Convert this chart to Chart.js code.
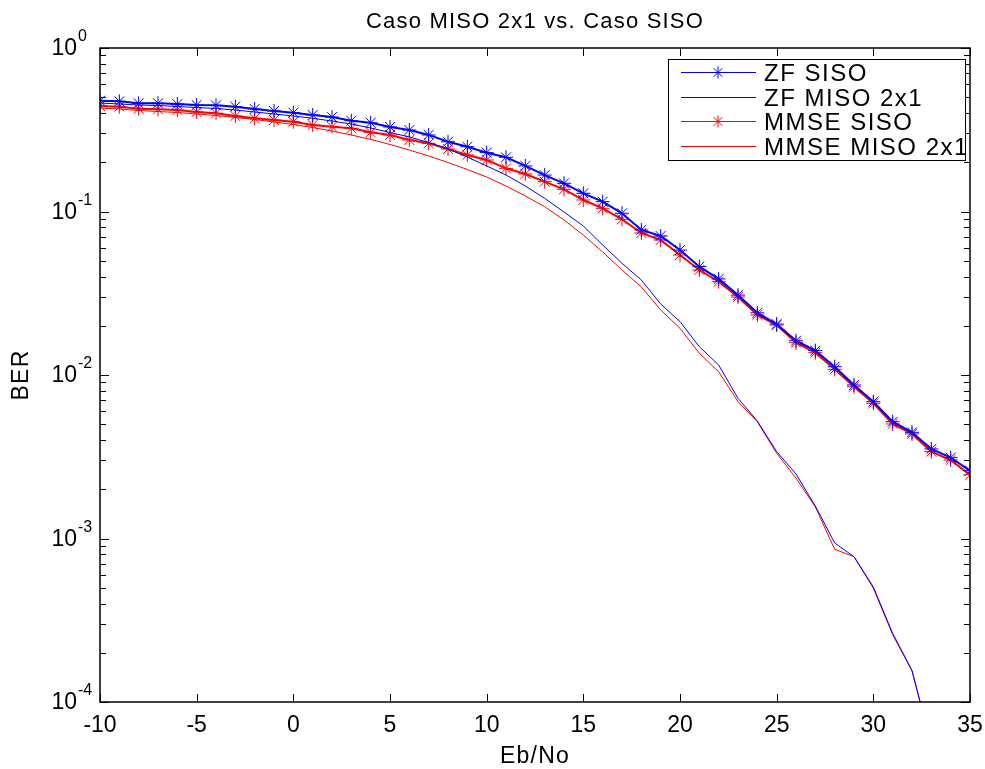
<!DOCTYPE html>
<html>
<head>
<meta charset="utf-8">
<title>Caso MISO 2x1 vs. Caso SISO</title>
<script src="https://cdn.jsdelivr.net/npm/chart.js@4.4.1/dist/chart.umd.min.js"></script>
<style>
  html, body { margin: 0; padding: 0; background: #fff; }
  #wrap { width: 985px; height: 769px; }
</style>
</head>
<body>
<div id="wrap"><canvas id="berChart" width="985" height="769"></canvas></div>
<script>
// Eb/No (dB) values
const ebno = [-10, -9, -8, -7, -6, -5, -4, -3, -2, -1, 0, 1, 2, 3, 4, 5, 6, 7, 8, 9,
  10, 11, 12, 13, 14, 15, 16, 17, 18, 19, 20, 21, 22, 23, 24, 25, 26, 27, 28, 29,
  30, 31, 32, 33, 34, 35];

// BER
const zfSiso = [0.476, 0.472, 0.459, 0.459, 0.454, 0.448, 0.446, 0.4375, 0.4235, 0.4118,
  0.402, 0.389, 0.378, 0.359, 0.349, 0.329, 0.315, 0.294, 0.267, 0.249,
  0.229, 0.2146, 0.190, 0.167, 0.1487, 0.1292, 0.1148, 0.0975, 0.0771, 0.0708,
  0.0581, 0.0460, 0.0387, 0.0308, 0.0240, 0.0205, 0.0162, 0.0141, 0.01124, 0.00869,
  0.00687, 0.00518, 0.00446, 0.00353, 0.00312, 0.00260];

const zfMiso = [0.4609, 0.4545, 0.448, 0.4449, 0.4387, 0.4326, 0.4266, 0.4176, 0.4060, 0.3948,
  0.3838, 0.3715, 0.3576, 0.3428, 0.3240, 0.3041, 0.2856, 0.2642, 0.2411, 0.2154,
  0.1898, 0.1672, 0.1432, 0.1204, 0.0993, 0.0815, 0.0624, 0.0482, 0.0381, 0.0272,
  0.0212, 0.0149, 0.01151, 0.00720, 0.00523, 0.00340, 0.00248, 0.00158, 0.000939, 0.000774,
  0.000498, 0.000259, 0.000155, 0.0000546, null, null];

const mmseSiso = [0.4417, 0.4375, 0.4253, 0.4217, 0.4176, 0.406, 0.3986, 0.3838, 0.3715, 0.3627,
  0.3541, 0.3381, 0.3301, 0.3227, 0.305, 0.2937, 0.2737, 0.2613, 0.2411, 0.2216,
  0.2065, 0.1837, 0.1696, 0.1522, 0.1367, 0.1176, 0.1046, 0.0896, 0.0739, 0.0670,
  0.0542, 0.0439, 0.0372, 0.0300, 0.0233, 0.0202, 0.01576, 0.01369, 0.01083, 0.00848,
  0.00671, 0.00502, 0.00436, 0.00340, 0.00302, 0.00245];

const mmseMiso = [0.4296, 0.4235, 0.4147, 0.4089, 0.4032, 0.3948, 0.3866, 0.3758, 0.3653, 0.3527,
  0.3404, 0.3263, 0.3106, 0.2937, 0.2757, 0.2570, 0.2377, 0.2185, 0.1994, 0.1807,
  0.1626, 0.1432, 0.1244, 0.1070, 0.0887, 0.0718, 0.0565, 0.0439, 0.0345, 0.0250,
  0.0193, 0.01357, 0.01047, 0.00687, 0.00518, 0.00332, 0.00234, 0.00156, 0.000859, 0.000774,
  0.000507, 0.000264, 0.000156, 0.0000546, null, null];

// axis ticks
const xTicks = [-10, -5, 0, 5, 10, 15, 20, 25, 30, 35];
const yExponents = [0, -1, -2, -3, -4];

const FONT = '"Liberation Sans", Arial, Helvetica, sans-serif';

function pts(arr) {
  return ebno.map((x, i) => ({ x: x, y: arr[i] }));
}

function drawStar(ctx, cx, cy, r) {
  const d = r * Math.SQRT1_2;
  ctx.beginPath();
  ctx.moveTo(cx - r, cy); ctx.lineTo(cx + r, cy);
  ctx.moveTo(cx, cy - r); ctx.lineTo(cx, cy + r);
  ctx.moveTo(cx - d, cy - d); ctx.lineTo(cx + d, cy + d);
  ctx.moveTo(cx - d, cy + d); ctx.lineTo(cx + d, cy - d);
  ctx.stroke();
}

// MATLAB-like frame: inward ticks, box, y labels, titles and legend
const matlabFrame = {
  id: 'matlabFrame',
  afterDraw(chart) {
    const { ctx, chartArea: a, scales } = chart;
    const x = scales.x, y = scales.y;
    ctx.save();
    ctx.strokeStyle = '#000';
    ctx.lineWidth = 1;

    const seg = (x1, y1, x2, y2) => {
      ctx.beginPath(); ctx.moveTo(x1, y1); ctx.lineTo(x2, y2); ctx.stroke();
    };

    // x ticks top & bottom
    xTicks.forEach(v => {
      const px = Math.round(x.getPixelForValue(v)) + 0.5;
      seg(px, a.bottom, px, a.bottom - 8);
      seg(px, a.top, px, a.top + 8);
    });

    // y ticks (major + minor) left & right
    yExponents.forEach(e => {
      for (let m = 1; m <= 9; m++) {
        const val = m * Math.pow(10, e);
        if (val > 1.0001 || val < 0.99e-4) continue;
        const py = Math.round(y.getPixelForValue(val)) + 0.5;
        const len = m === 1 ? 9 : 6;
        seg(a.left, py, a.left + len, py);
        seg(a.right, py, a.right - len, py);
      }
    });

    // box
    ctx.lineWidth = 1.5;
    ctx.strokeRect(a.left, a.top, a.right - a.left, a.bottom - a.top);

    // y tick labels 10^e
    ctx.fillStyle = '#000';
    yExponents.forEach(e => {
      const py = y.getPixelForValue(Math.pow(10, e));
      ctx.font = '23px ' + FONT;
      ctx.textAlign = 'right';
      ctx.textBaseline = 'middle';
      ctx.fillText('10', 77, py + 1);
      ctx.font = '16px ' + FONT;
      ctx.textAlign = 'left';
      ctx.fillText(String(e), 78, py - 11);
    });

    // title and axis titles
    ctx.letterSpacing = '1.2px';
    ctx.font = '22px ' + FONT;
    ctx.textAlign = 'center';
    ctx.textBaseline = 'middle';
    ctx.fillText('Caso MISO 2x1 vs. Caso SISO', (a.left + a.right) / 2, 22);
    ctx.font = '23px ' + FONT;
    ctx.fillText('Eb/No', (a.left + a.right) / 2, 757);
    ctx.save();
    ctx.translate(22, (a.top + a.bottom) / 2);
    ctx.rotate(-Math.PI / 2);
    ctx.fillText('BER', 0, 0);
    ctx.restore();

    // legend
    const lx = 668, ly = 59, lw = 297, lh = 101;
    ctx.fillStyle = '#fff';
    ctx.fillRect(lx, ly, lw, lh);
    ctx.lineWidth = 1;
    ctx.strokeStyle = '#000';
    ctx.strokeRect(lx + 0.5, ly + 0.5, lw, lh);
    chart.data.datasets.forEach((ds, i) => {
      const ry = Math.round(72 + i * 24.5);
      ctx.fillStyle = ds.borderColor;
      ctx.fillRect(681, ry, 75, 1);
      if (ds.pointRadius > 0) {
        ctx.strokeStyle = ds.borderColor;
        ctx.lineWidth = 1;
        drawStar(ctx, 718, ry + 0.5, 6);
      }
      ctx.fillStyle = '#000';
      ctx.letterSpacing = '1.5px';
      ctx.font = '24px ' + FONT;
      ctx.textAlign = 'left';
      ctx.textBaseline = 'middle';
      ctx.fillText(ds.label, 764, ry + 2);
    });

    ctx.restore();
  }
};

new Chart(document.getElementById('berChart'), {
  type: 'line',
  data: {
    datasets: [
      { label: 'ZF SISO', data: pts(zfSiso), borderColor: '#0000ff', borderWidth: 2,
        pointStyle: 'star', pointRadius: 7, pointBorderWidth: 1, pointBorderColor: '#0000ff' },
      { label: 'ZF MISO 2x1', data: pts(zfMiso), borderColor: '#0000ff', borderWidth: 1,
        pointRadius: 0 },
      { label: 'MMSE SISO', data: pts(mmseSiso), borderColor: '#ff0000', borderWidth: 2,
        pointStyle: 'star', pointRadius: 7, pointBorderWidth: 1, pointBorderColor: '#ff0000' },
      { label: 'MMSE MISO 2x1', data: pts(mmseMiso), borderColor: '#ff0000', borderWidth: 1,
        pointRadius: 0 }
    ]
  },
  options: {
    responsive: false,
    animation: false,
    devicePixelRatio: 1,
    layout: { padding: { left: 0, top: 48, right: 15, bottom: 0 } },
    plugins: {
      legend: { display: false },
      tooltip: { enabled: false }
    },
    scales: {
      x: {
        type: 'linear',
        min: -10,
        max: 35,
        grid: { display: false, drawTicks: false },
        border: { display: false },
        ticks: {
          stepSize: 5,
          maxRotation: 0,
          autoSkip: false,
          padding: 10,
          color: '#000',
          font: { family: FONT, size: 23 }
        },
        afterFit(s) { s.height = 67; s.paddingLeft = 0; s.paddingRight = 0; }
      },
      y: {
        type: 'logarithmic',
        min: 1e-4,
        max: 1,
        grid: { display: false, drawTicks: false },
        border: { display: false },
        ticks: { display: false },
        afterFit(s) { s.width = 100; s.paddingTop = 0; s.paddingBottom = 0; }
      }
    }
  },
  plugins: [matlabFrame]
});
</script>
</body>
</html>
